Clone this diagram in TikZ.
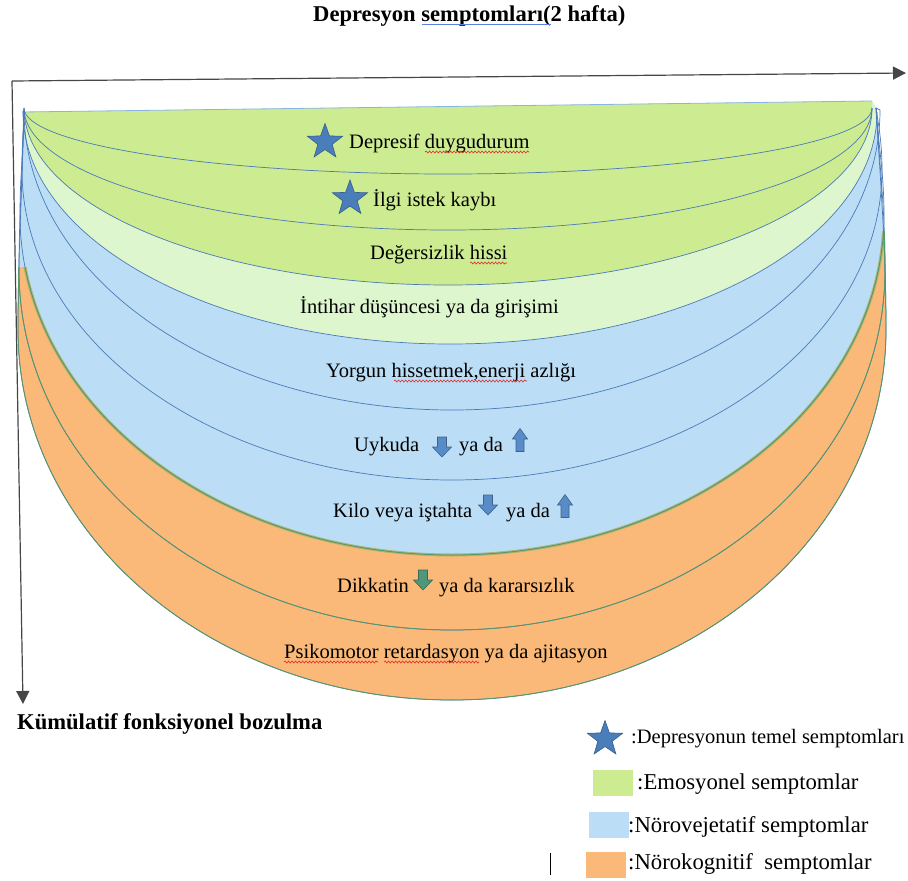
\documentclass[tikz,border=0pt]{standalone}
\usepackage{fontspec}
\setmainfont{Liberation Serif}
\usetikzlibrary{shapes.geometric,arrows.meta,decorations.pathmorphing}

\definecolor{gfill}{RGB}{205,235,145}
\definecolor{lgfill}{RGB}{221,246,206}
\definecolor{bfill}{RGB}{187,222,246}
\definecolor{ofill}{RGB}{250,185,120}
\definecolor{bline}{RGB}{74,122,184}
\definecolor{gline}{RGB}{82,152,104}
\definecolor{oliveedge}{RGB}{168,176,104}
\definecolor{topline}{RGB}{140,180,226}
\definecolor{starblue}{RGB}{74,126,187}
\definecolor{arrblue}{RGB}{88,140,200}
\definecolor{arrgreen}{RGB}{80,150,120}
\definecolor{axisgray}{RGB}{70,70,70}
\definecolor{spellred}{RGB}{220,40,40}
\definecolor{ulblue}{RGB}{90,130,220}

% curve paths (pixel coordinates, y downwards)
\newcommand{\curveA}{(24,108) arc[start angle=180,end angle=360,x radius=424pt,y radius=66pt]}
\newcommand{\curveB}{(24,108) arc[start angle=180,end angle=360,x radius=424pt,y radius=122pt]}
\newcommand{\curveC}{(24,108) arc[start angle=180,end angle=360,x radius=424pt,y radius=177pt]}
\newcommand{\curveD}{(23,112) arc[start angle=180,end angle=360,x radius=427pt,y radius=232pt]}
\newcommand{\curveE}{(24,110) arc[start angle=180,end angle=360,x radius=428pt,y radius=300pt] -- (876,108)}
\newcommand{\curveF}{(24,110) .. controls (23,137) and (22,143) .. (22,170) arc[start angle=180,end angle=360,x radius=430pt,y radius=310pt] .. controls (882,143) and (879,128) .. (876,108)}
\newcommand{\curveG}{(24,110) .. controls (23,160) and (20,175) .. (20,215) arc[start angle=180,end angle=360,x radius=432pt,y radius=340pt] .. controls (884,175) and (879,150) .. (876,108)}
\newcommand{\curveH}{(24,110) .. controls (22,190) and (19,215) .. (19,270) arc[start angle=180,end angle=360,x radius=433pt,y radius=360pt] .. controls (885,210) and (880,170) .. (876,108)}
\newcommand{\curveI}{(24,110) .. controls (21,220) and (18,260) .. (18,330) arc[start angle=180,end angle=360,x radius=434pt,y radius=370pt] .. controls (886,250) and (881,190) .. (876,108)}

\tikzset{
  body/.style={font=\fontsize{20.5}{24}\selectfont, inner sep=0pt, anchor=base west},
  leg/.style={font=\fontsize{22.7}{26}\selectfont, inner sep=0pt, anchor=base west},
  heading/.style={font=\fontsize{22.6}{26}\selectfont\bfseries, inner sep=0pt, anchor=base west},
  sepline/.style={draw=bline, line width=0.7pt},
  orline/.style={draw=gline, line width=0.8pt},
  axis/.style={draw=axisgray, line width=1.2pt, -{Triangle[length=13pt,width=13pt]}},
  starsty/.style={star, star points=5, star point ratio=2.45, minimum size=37pt, inner sep=0pt,
                  fill=starblue, draw=starblue!75!black, line width=0.6pt},
  swatch/.style={minimum width=40pt, minimum height=26pt, inner sep=0pt},
  spell/.style={draw=spellred, line width=0.6pt, decorate,
                decoration={snake, amplitude=1pt, segment length=3.5pt}},
  dnarr/.pic={\path[fill=#1, draw=#1!70!black, line width=0.6pt]
     (-4.5,-10) -- (4.5,-10) -- (4.5,0) -- (9.5,0) -- (0,10) -- (-9.5,0) -- (-4.5,0) -- cycle;},
  uparr/.pic={\path[fill=#1, draw=#1!70!black, line width=0.6pt]
     (-4,11.5) -- (4,11.5) -- (4,-1) -- (7.5,-1) -- (0,-11.5) -- (-7.5,-1) -- (-4,-1) -- cycle;}
}

\begin{document}
\begin{tikzpicture}[x=1pt,y=-1pt]
\useasboundingbox (0,0) rectangle (908,881);

% ---------- fills ----------
\fill[bfill] \curveI -- (872,101) -- (22,112) -- cycle;
\begin{scope}
  \clip (0,268) -- (908,230) -- (908,881) -- (0,881) -- cycle;
  \fill[ofill, even odd rule] \curveI -- cycle \curveG -- cycle;
\end{scope}
\fill[lgfill] \curveD -- (872,101) -- (22,112) -- cycle;
\fill[gfill] \curveC -- (872,101) -- (22,112) -- cycle;

% ---------- separating curves ----------
\draw[topline, line width=0.8pt] (22,112) -- (872,101);
\draw[sepline] \curveA;
\draw[sepline] \curveB;
\draw[sepline] \curveC;
\draw[sepline] \curveD;
\draw[sepline] \curveE;
\draw[sepline] \curveF;
\draw[sepline] \curveG;
\draw[sepline] \curveH;
\draw[sepline] \curveI;
\begin{scope}
  \clip (0,268) -- (908,230) -- (908,881) -- (0,881) -- cycle;
  \draw[oliveedge, line width=3pt, opacity=0.85] \curveG;
  \draw[orline] \curveG;
  \draw[orline] \curveH;
  \draw[orline] \curveI;
\end{scope}

% ---------- axes ----------
\coordinate (O) at (12,81);
\coordinate (xend) at (906,73);
\coordinate (yend) at (23,704);
\draw[axis] (O) -- (xend);
\draw[axis] (O) -- (yend);

% ---------- headings ----------
\node[heading] (title) at (313,21) {Depresyon semptomları(2 hafta)};
\draw[ulblue, line width=1.4pt] (422,24.5) -- (551,24.5);
\node[heading] (ylab) at (17,729) {Kümülatif fonksiyonel bozulma};

% ---------- symptom labels ----------
\node[starsty] (s1) at (325,142) {};
\node[body] (t1) at (349,148) {Depresif duygudurum};
\node[starsty] (s2) at (350,198.5) {};
\node[body] (t2) at (373,206) {İlgi istek kaybı};
\node[body] (t3) at (370,259) {Değersizlik hissi};
\node[body] (t4) at (300,313) {İntihar düşüncesi ya da girişimi};
\node[body] (t5) at (326,377) {Yorgun hissetmek,enerji azlığı};
\node[body] (t6a) at (354,451) {Uykuda};
\pic at (442,447) {dnarr=arrblue};
\node[body] (t6b) at (459,451) {ya da};
\pic at (520,440) {uparr=arrblue};
\node[body] (t7a) at (333,517) {Kilo veya iştahta};
\pic at (488,505) {dnarr=arrblue};
\node[body] (t7b) at (506,517) {ya da};
\pic at (565,506) {uparr=arrblue};
\node[body] (t8a) at (337,592) {Dikkatin};
\pic at (423,580) {dnarr=arrgreen};
\node[body] (t8b) at (439,592) {ya da kararsızlık};
\node[body] (t9) at (284,658) {Psikomotor retardasyon ya da ajitasyon};

% spell-check marks
\draw[spell] (425,152) -- (529,152);
\draw[spell] (470,263) -- (507,263);
\draw[spell] (394,381) -- (527,381);
\draw[spell] (284,662) -- (378,662);
\draw[spell] (384,662) -- (479,662);

% ---------- legend ----------
\node[starsty] (ls) at (605,739) {};
\node[body] (l1) at (631,743) {:Depresyonun temel semptomları};
\node[swatch, fill=gfill] (lg) at (613,783) {};
\node[leg] (l2) at (637,789) {:Emosyonel semptomlar};
\node[swatch, fill=bfill] (lb) at (608.5,825) {};
\node[leg] (l3) at (628,832) {:Nörovejetatif semptomlar};
\node[swatch, fill=ofill] (lo) at (606,864.5) {};
\node[leg] (l4) at (628,869) {:Nörokognitif\ \ semptomlar};
\draw[black, line width=0.8pt] (550,853) -- (550,875);
\end{tikzpicture}
\end{document}
